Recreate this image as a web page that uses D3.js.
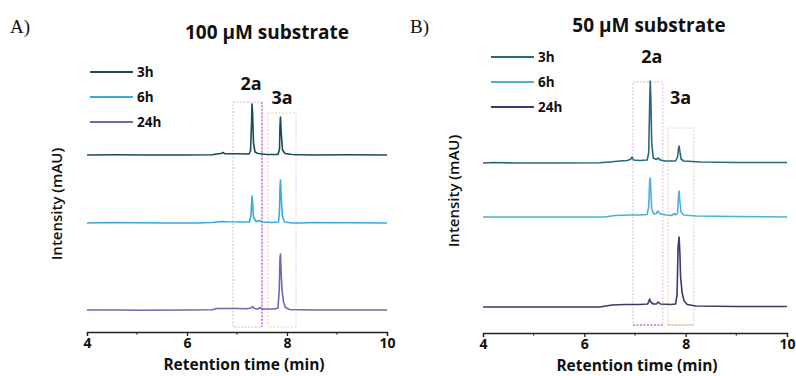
<!DOCTYPE html>
<html>
<head>
<meta charset="utf-8">
<script src="https://cdn.jsdelivr.net/npm/d3@7"></script>
<style>
  body { margin: 0; background: #fff; }
  text { font-family: "Open Sans", sans-serif; font-weight: bold; fill: #111; }
</style>
</head>
<body>
<div id="chart"></div>
<script>
// time axis
var timeTicks = [4, 6, 8, 10];
var minorTicks = [5, 7, 9];
var seriesNames = ["3h", "6h", "24h"];

// trace offsets (stacking) in mAU-ish units
var offsetsA = [175, 107, 20];
var offsetsB = [168, 114, 24];

// panel A traces: [retention time, intensity above own baseline]
var a3h = [[4,0],[4.6,0.3],[5.2,0],[6,0],[6.5,0.2],[6.6,1],[6.68,1.5],[6.72,2.5],[6.76,1.2],[7.0,1.2],[7.24,1],
  [7.27,4],[7.29,30],[7.3,51],[7.31,44],[7.33,12],[7.36,3],[7.42,1.5],[7.6,0.5],[7.82,0.5],[7.85,6],[7.86,30],
  [7.87,38],[7.885,22],[7.91,5],[7.96,1.5],[8.1,0.5],[8.5,0],[9.2,0.3],[10,0]];
var a6h = [[4,0],[4.5,0.5],[4.9,0.2],[5.6,0],[6.2,0],[6.5,0.5],[6.7,1.5],[6.8,1.2],[7.1,1],[7.25,1],
  [7.28,8],[7.3,27],[7.31,22],[7.33,6],[7.38,1.5],[7.45,2.5],[7.5,1],[7.7,0.5],[7.83,1],[7.85,12],[7.86,36],
  [7.87,43],[7.885,25],[7.91,6],[7.95,1],[8.1,0],[8.3,0],[8.5,0.5],[10,0]];
var a24h = [[4,0],[4.7,0],[5,-0.3],[6,0],[6.5,0.3],[6.6,1.5],[7.0,1.5],[7.2,1.2],[7.28,2],[7.31,3.5],[7.35,1.5],
  [7.42,1],[7.45,2.5],[7.5,1],[7.75,1],[7.82,2],[7.845,20],[7.86,52],[7.87,56],[7.88,40],[7.9,20],[7.93,8],
  [7.97,2.5],[8.05,0.5],[8.5,0],[10,0]];

// panel B traces
var b3h = [[4,0],[4.2,0.5],[4.6,0],[5.6,0],[6.3,0.2],[6.5,1],[6.7,2],[6.85,2.5],[6.92,4],[6.94,6],[6.97,3],
  [7.1,2.5],[7.24,3],[7.27,10],[7.29,60],[7.3,82],[7.31,70],[7.33,20],[7.36,5],[7.42,3.5],[7.45,5],[7.5,3],
  [7.6,2],[7.8,2],[7.84,6],[7.86,15],[7.87,17],[7.885,12],[7.91,4],[7.96,2],[8.3,1],[9,0.5],[10,0.5]];
var b6h = [[4,0],[5,0],[6,0],[6.4,0],[6.6,1.5],[6.9,2],[7.1,2],[7.24,2.5],[7.27,10],[7.29,36],[7.3,39],
  [7.31,30],[7.33,8],[7.37,3],[7.42,3.5],[7.45,6],[7.5,3],[7.62,2],[7.72,1.5],[7.78,3.5],[7.8,2],[7.84,4],
  [7.86,22],[7.87,26],[7.885,16],[7.91,5],[7.96,2],[8.2,1],[9,0.5],[10,0]];
var b24h = [[4,0],[4.6,0],[5.6,0],[6.3,0],[6.55,2],[6.8,2.5],[7.1,2.5],[7.25,3],[7.29,8],[7.31,5],[7.36,3],
  [7.42,3],[7.46,5],[7.5,3],[7.7,2.5],[7.8,3],[7.83,12],[7.85,60],[7.87,70],[7.885,55],[7.9,30],[7.93,14],
  [7.97,6],[8.03,2.5],[8.2,1],[9,0.5],[10,0.5]];

// highlight windows (min) for 2a and 3a
var boxA = [[6.92, 7.5], [7.62, 8.18]];
var boxB = [[6.96, 7.55], [7.65, 8.16]];

var coloursA = ["#1b4b5c", "#38aadc", "#6c68b2"];
var coloursB = ["#29697d", "#4cb0d8", "#3a3a6c"];

var W = 796, H = 376;
var svg = d3.select("#chart").append("svg")
    .attr("width", W)
    .attr("height", H);

function drawPanel(p) {
  var x = d3.scaleLinear().domain([4, 10]).range([p.x0, p.x1]);
  var y = d3.scaleLinear().domain([0, 250]).range([p.axisY - 2, p.axisY - 252]);
  var g = svg.append("g");

  // dotted boxes
  var boxCols = [["#dcb2e4", "#b248c4"], ["#efcdb2", "#d49a64"]];
  p.boxes.forEach(function(b, i) {
    var x0 = x(b[0]), x1 = x(b[1]);
    var top = y(p.boxTop[i]), bot = y(p.boxBot);
    g.append("rect")
      .attr("x", x0).attr("y", top)
      .attr("width", x1 - x0).attr("height", bot - top)
      .attr("fill", "none")
      .attr("stroke", boxCols[i][0])
      .attr("stroke-width", 1)
      .attr("stroke-dasharray", "2,1.5");
    // darker edge
    var edge = p.darkEdge == "right"
      ? [x1, top, x1, bot] : [x0, bot, x1, bot];
    if (i == 0 || p.darkEdge == "bottom") {
      g.append("line")
        .attr("x1", edge[0]).attr("y1", edge[1])
        .attr("x2", edge[2]).attr("y2", edge[3])
        .attr("stroke", boxCols[i][1])
        .attr("stroke-width", 1)
        .attr("stroke-dasharray", "2,1.5");
    }
  });

  // traces
  var line = d3.line()
    .x(function(d) { return x(d[0]); })
    .y(function(d) { return y(d[1] + d.off); });
  p.traces.forEach(function(tr, i) {
    var pts = tr.map(function(d) { var q = [d[0], d[1]]; q.off = p.offsets[i]; return q; });
    g.append("path")
      .datum(pts)
      .attr("d", line)
      .attr("fill", "none")
      .attr("stroke", p.colours[i])
      .attr("stroke-width", 1.6)
      .attr("stroke-linejoin", "round");
  });

  // x axis
  var ax = g.append("g")
    .attr("transform", "translate(0," + p.axisY + ")")
    .call(d3.axisBottom(x).tickValues(timeTicks).tickFormat(d3.format("d")).tickSize(4).tickPadding(2));
  ax.select(".domain").attr("stroke", "#222").attr("stroke-width", 1.3);
  ax.selectAll(".tick line").attr("stroke", "#222").attr("stroke-width", 1.3);
  ax.selectAll("text").style("font-size", "14px").style("font-family", "'Open Sans', sans-serif").style("font-weight", "bold");
  g.selectAll(".minor")
    .data(minorTicks)
    .enter()
    .append("line")
    .attr("x1", function(d) { return x(d); })
    .attr("x2", function(d) { return x(d); })
    .attr("y1", p.axisY).attr("y2", p.axisY + 2.5)
    .attr("stroke", "#222").attr("stroke-width", 1.2);

  g.append("text")
    .attr("x", p.xLabelX)
    .attr("y", p.axisY + 38)
    .attr("text-anchor", "middle")
    .style("font-size", "15.5px")
    .text("Retention time (min)");

  g.append("text")
    .attr("transform", "translate(" + p.yLabelX + "," + p.yLabelY + ") rotate(-90)")
    .attr("text-anchor", "middle")
    .style("font-size", "15px")
    .style("font-weight", "600")
    .text("Intensity (mAU)");

  // title and letter
  g.append("text")
    .attr("x", p.titleX).attr("y", p.titleY)
    .attr("text-anchor", "middle")
    .style("font-size", "19px")
    .text(p.title);
  g.append("text")
    .attr("x", p.letterX).attr("y", p.letterY)
    .style("font-family", "'Liberation Serif', serif")
    .style("font-weight", "normal")
    .style("font-size", "19px")
    .text(p.letter);

  // peak labels
  p.peakLabels.forEach(function(l) {
    g.append("text")
      .attr("x", x(l.t)).attr("y", l.y)
      .attr("text-anchor", "middle")
      .style("font-size", "18px")
      .text(l.name);
  });

  // legend
  var lg = g.append("g").attr("transform", "translate(" + p.legX + "," + p.legY + ")");
  seriesNames.forEach(function(s, i) {
    lg.append("line")
      .attr("x1", 0).attr("x2", 43)
      .attr("y1", i * 25).attr("y2", i * 25)
      .attr("stroke", p.colours[i]).attr("stroke-width", 2);
    lg.append("text")
      .attr("x", 47).attr("y", i * 25 + 5)
      .style("font-size", "13.5px")
      .text(s);
  });
}

drawPanel({
  x0: 87, x1: 387, axisY: 332,
  traces: [a3h, a6h, a24h], offsets: offsetsA, colours: coloursA,
  boxes: boxA, boxTop: [228, 217], boxBot: 3, darkEdge: "right",
  yLabelX: 62, yLabelY: 204, xLabelX: 244,
  title: "100 µM substrate", titleX: 267, titleY: 39,
  letter: "A)", letterX: 10, letterY: 33,
  peakLabels: [{name: "2a", t: 7.28, y: 90}, {name: "3a", t: 7.9, y: 104}],
  legX: 90, legY: 72
});

drawPanel({
  x0: 483, x1: 787, axisY: 333,
  traces: [b3h, b6h, b24h], offsets: offsetsB, colours: coloursB,
  boxes: boxB, boxTop: [249, 203], boxBot: 6, darkEdge: "bottom",
  yLabelX: 459, yLabelY: 191, xLabelX: 637,
  title: "50 µM substrate", titleX: 649, titleY: 32,
  letter: "B)", letterX: 410, letterY: 33,
  peakLabels: [{name: "2a", t: 7.33, y: 63}, {name: "3a", t: 7.9, y: 104}],
  legX: 491, legY: 57
});
</script>
</body>
</html>
